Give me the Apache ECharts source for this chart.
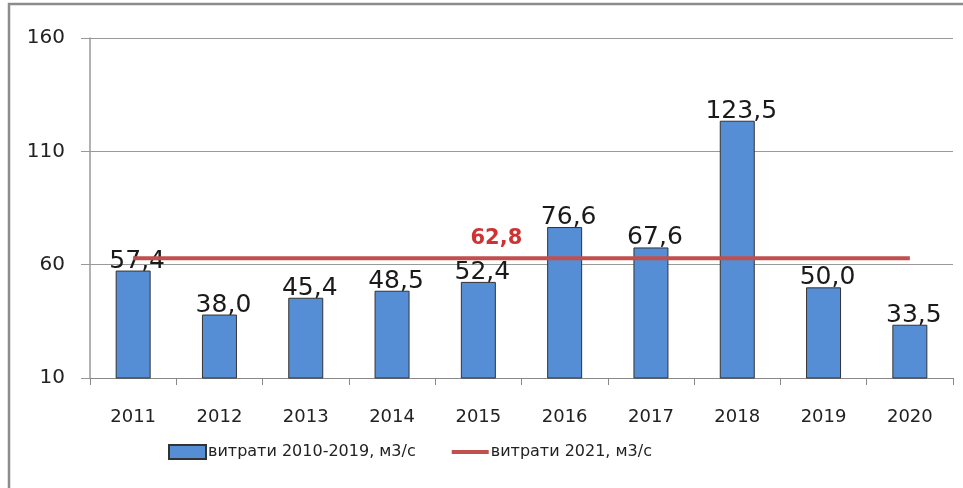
<!DOCTYPE html>
<html>
<head>
<meta charset="utf-8">
<script src="https://cdn.jsdelivr.net/npm/echarts@6/dist/echarts.min.js"></script>
<style>
  html, body { margin: 0; padding: 0; background: #fff; }
  #main { width: 963px; height: 488px; }
</style>
</head>
<body>
<div id="main"></div>
<script>
// дані графіка
const years = ['2011', '2012', '2013', '2014', '2015', '2016', '2017', '2018', '2019', '2020'];
const flow2010_2019 = [57.4, 38.0, 45.4, 48.5, 52.4, 76.6, 67.6, 123.5, 50.0, 33.5];
const flow2021 = [62.8, 62.8, 62.8, 62.8, 62.8, 62.8, 62.8, 62.8, 62.8, 62.8];
const yTicks = [10, 60, 110, 160];
const markYear = '2015'; // де підписано 62,8

const fmt = v => v.toFixed(1).replace('.', ',');
const font = 'DejaVu Sans';

const chart = echarts.init(document.getElementById('main'));
chart.setOption({
    animation: false,
    textStyle: { fontFamily: font },
    graphic: [{
        type: 'polyline',
        shape: { points: [[9, 488], [9, 4], [963, 4]] },
        style: { fill: 'none', stroke: '#8c8c8c', lineWidth: 2.5 }
    }],
    grid: { left: 90, right: 10, top: 38, bottom: 110 },
    legend: {
        bottom: 23,
        left: 163,
        itemWidth: 37,
        itemHeight: 14,
        itemGap: 36,
        textStyle: { fontSize: 16, color: '#222', fontFamily: font, padding: [0, 0, 0, -3] },
        data: [
            { name: 'витрати 2010-2019, м3/с', icon: 'rect' },
            // лише товста лінія, без кружечка
            { name: 'витрати 2021, м3/с', icon: 'path://M0,0M0,5L37,5L37,9L0,9ZM37,14' }
        ]
    },
    xAxis: {
        type: 'category',
        data: years,
        boundaryGap: true,
        axisLine: { lineStyle: { color: '#888', width: 1 } },
        axisTick: { show: true, length: 7, lineStyle: { color: '#888' } },
        axisLabel: { fontSize: 18, color: '#222', margin: 30 }
    },
    yAxis: {
        type: 'value',
        min: yTicks[0],
        max: yTicks[yTicks.length - 1],
        interval: 50,
        axisLine: { show: true, lineStyle: { color: '#999', width: 1.5 } },
        axisTick: { show: true, length: 9, lineStyle: { color: '#999' } },
        splitLine: { lineStyle: { color: '#999', width: 1.2 } },
        axisLabel: { fontSize: 20, color: '#222', margin: 25 }
    },
    series: [
        {
            name: 'витрати 2010-2019, м3/с',
            type: 'bar',
            data: flow2010_2019,
            barWidth: 35,
            itemStyle: { color: '#558ed5', borderColor: '#333', borderWidth: 1 },
            label: {
                show: true,
                position: 'top',
                distance: -3,
                offset: [4, 0],
                fontSize: 25,
                color: '#1a1a1a',
                formatter: p => fmt(p.value)
            },
            z: 2
        },
        {
            name: 'витрати 2021, м3/с',
            type: 'line',
            data: flow2021,
            symbol: 'none',
            lineStyle: { color: '#c0504d', width: 4 },
            itemStyle: { color: '#c0504d' },
            z: 3
        },
        {
            // підпис 62,8
            name: 'label2021',
            type: 'scatter',
            data: [[markYear, flow2021[years.indexOf(markYear)]]],
            symbolSize: 1,
            itemStyle: { color: 'rgba(0,0,0,0)' },
            label: {
                show: true,
                position: 'top',
                distance: 9,
                offset: [18, 0],
                fontSize: 21,
                fontWeight: 'bold',
                color: '#c00000',
                formatter: p => fmt(p.value[1])
            },
            z: 4
        }
    ]
});
</script>
</body>
</html>
